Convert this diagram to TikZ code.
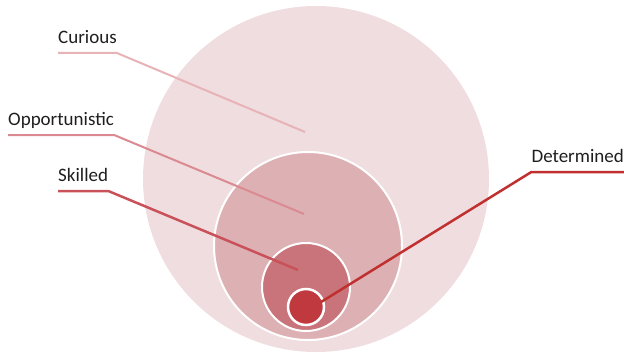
\documentclass[tikz,border=0pt]{standalone}
\usepackage{fontspec}
\setmainfont{Carlito}
\usepackage{xcolor}
\usetikzlibrary{positioning}
\definecolor{ringA}{HTML}{F0DDE0}
\definecolor{ringB}{HTML}{DDB1B4}
\definecolor{ringC}{HTML}{C8747A}
\definecolor{ringD}{HTML}{C0393E}
\definecolor{leadA}{HTML}{E8B3B7}
\definecolor{leadB}{HTML}{DA8A90}
\definecolor{leadC}{HTML}{C9525A}
\definecolor{leadD}{HTML}{C0302F}
\definecolor{labeltext}{HTML}{1E1E1E}
\tikzset{
    ringnode/.style={draw=white, line width=2pt, circle, inner sep=0pt},
    ringlabel/.style={font=\fontsize{19}{21}\selectfont, text=labeltext, inner xsep=0pt, inner ysep=4pt, text depth=5pt},
    ringlead/.style={draw, line width=2pt, line join=round}
}

\begin{document}
\begin{tikzpicture}[x=1pt, y=-1pt]
    \useasboundingbox (0,0) rectangle (624,353);

    \node[ringnode, draw=none, fill=ringA, minimum size=346pt] (curious) at (316,179) {};
    \node[ringnode, fill=ringB, minimum size=188pt] (opportunistic) at (308,246) {};
    \node[ringnode, fill=ringC, minimum size=88pt] (skilled) at (306,287) {};
    \node[ringnode, fill=ringD, minimum size=36pt, line width=2.5pt] (determined) at (306,307) {};

    \coordinate (curiousend) at (305,132);
    \coordinate (opportunisticend) at (304,214);
    \coordinate (skilledend) at (298,270);
    \coordinate (determinedend) at (321,302);

    \node[ringlabel, anchor=south west] (curiouslbl) at (58,53) {Curious};
    \node[ringlabel, anchor=south west] (opportunisticlbl) at (8,135) {Opportunistic};
    \node[ringlabel, anchor=south west] (skilledlbl) at (58,191) {Skilled};
    \node[ringlabel, anchor=south east] (determinedlbl) at (624,172) {Determined};

    \draw[ringlead, leadA] (curiouslbl.south west) -- (curiouslbl.south east) -- (curiousend);
    \draw[ringlead, leadB] (opportunisticlbl.south west) -- (opportunisticlbl.south east) -- (opportunisticend);
    \draw[ringlead, leadC, line width=2.5pt] (skilledlbl.south west) -- (skilledlbl.south east) -- (skilledend);
    \draw[ringlead, leadD, line width=2.5pt] (determinedlbl.south east) -- (determinedlbl.south west) -- (determinedend);
\end{tikzpicture}
\end{document}
